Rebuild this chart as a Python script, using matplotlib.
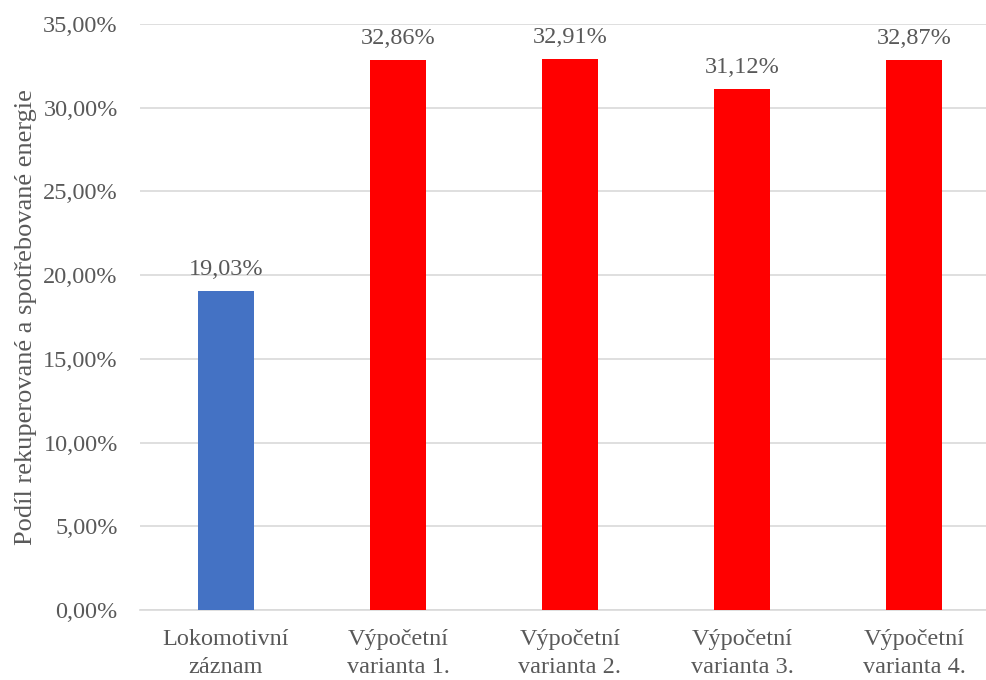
import matplotlib.pyplot as plt
from matplotlib.ticker import FuncFormatter

kategorie = ["Lokomotivní\nzáznam", "Výpočetní\nvarianta 1.", "Výpočetní\nvarianta 2.",
             "Výpočetní\nvarianta 3.", "Výpočetní\nvarianta 4."]
podil = [19.03, 32.86, 32.91, 31.12, 32.87]
barvy = ["#4472C4", "#FF0000", "#FF0000", "#FF0000", "#FF0000"]

TEXT = "#595959"
plt.rcParams["font.family"] = ["Liberation Serif", "DejaVu Serif"]
plt.rcParams["font.size"] = 17

fig = plt.figure(figsize=(9.87, 6.8), dpi=100)
# osa mírně přesahuje pravý okraj obrázku
ax = fig.add_axes([140 / 987, 70 / 680, 860 / 987, 586 / 680])

x = range(len(podil))
bars = ax.bar(x, podil, width=0.32, color=barvy, zorder=3)
for b, v in zip(bars, podil):
    ax.annotate(f"{v:.2f}%".replace(".", ","), (b.get_x() + b.get_width() / 2, v),
                xytext=(0, 8), textcoords="offset points", ha="center", va="bottom",
                color=TEXT, fontsize=17.5)

ax.set_xlim(-0.5, 4.5)
ax.set_ylim(0, 35)
ax.set_yticks(range(0, 36, 5))
ax.yaxis.set_major_formatter(FuncFormatter(lambda v, _: f"{v:.2f}%".replace(".", ",")))
ax.set_xticks(list(x))
ax.set_xticklabels(kategorie, linespacing=1.4)

ax.grid(axis="y", color="#D9D9D9", linewidth=1.2, zorder=0)
for s in ["top", "right", "left"]:
    ax.spines[s].set_visible(False)
ax.spines["bottom"].set_color("#D9D9D9")
ax.spines["bottom"].set_linewidth(1.2)
ax.tick_params(axis="both", length=0, colors=TEXT, labelsize=17.5)
ax.tick_params(axis="y", pad=16)
ax.tick_params(axis="x", pad=14)

ax.set_ylabel("Podíl rekuperované a spotřebované energie", color=TEXT, fontsize=19, labelpad=4)

fig.savefig("out.png", dpi=100)
